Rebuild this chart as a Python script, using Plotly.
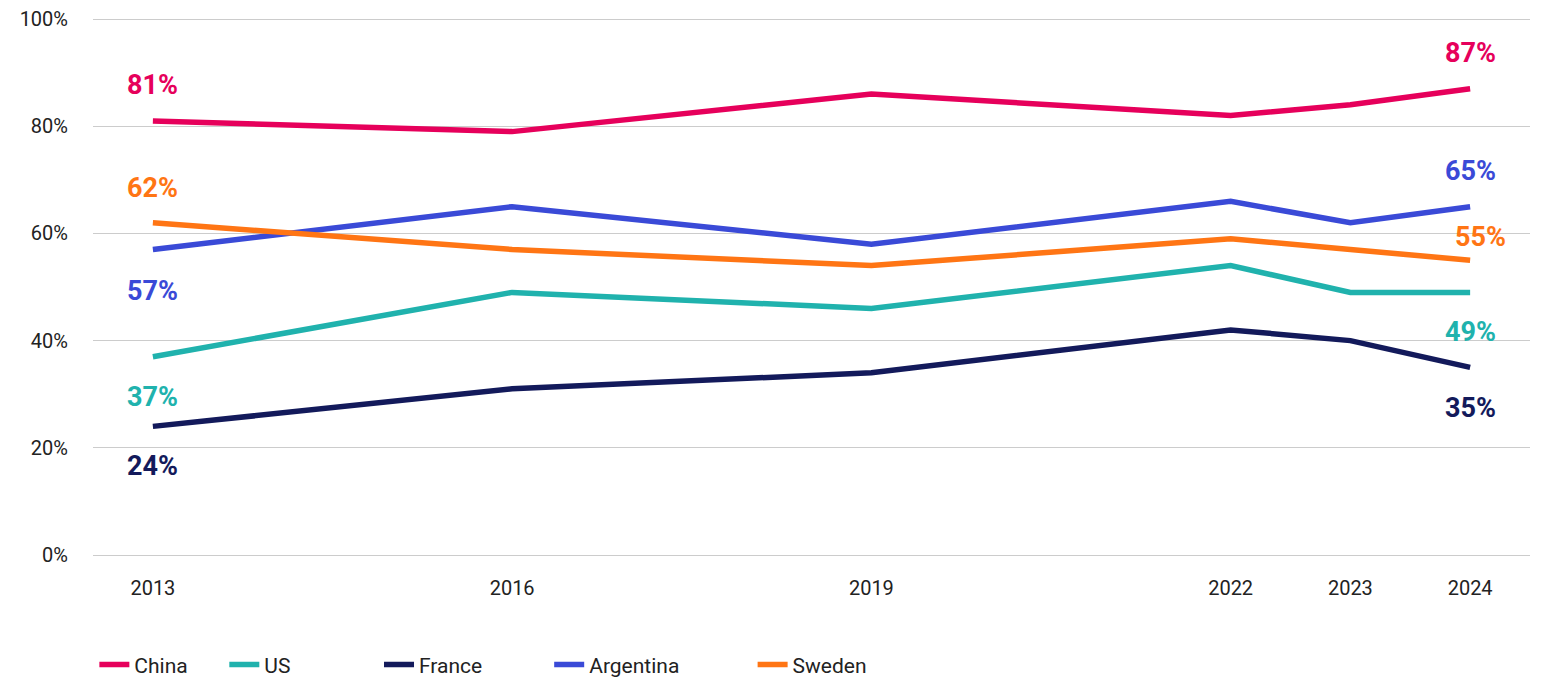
import plotly.graph_objects as go

years = [2013, 2016, 2019, 2022, 2023, 2024]

china = [81, 79, 86, 82, 84, 87]
us = [37, 49, 46, 54, 49, 49]
france = [24, 31, 34, 42, 40, 35]
argentina = [57, 65, 58, 66, 62, 65]
sweden = [62, 57, 54, 59, 57, 55]

y_ticks = [0, 20, 40, 60, 80, 100]
y_tick_labels = ["0%", "20%", "40%", "60%", "80%", "100%"]

series = [
    ("China", china, "#E6005B"),
    ("US", us, "#20B2AD"),
    ("France", france, "#131A5B"),
    ("Argentina", argentina, "#3A4AD7"),
    ("Sweden", sweden, "#FF7514"),
]

# end-label offsets in px: (first yshift, last yshift, last xshift)
label_offsets = {
    "China": (36, 36, 0),
    "US": (-40, -40, 0),
    "France": (-40, -41, 0),
    "Argentina": (-41, 36, 0),
    "Sweden": (35, 23, 10),
}

# legend entry positions (container coords)
legend_x = [0.0610, 0.1450, 0.2450, 0.3550, 0.4865]
legend_y = 0.0195

FONT = "Roboto"

fig = go.Figure()
annotations = []
layout_legends = {}
for i, (name, vals, color) in enumerate(series):
    lg = "legend" if i == 0 else f"legend{i + 1}"
    fig.add_trace(go.Scatter(
        x=years, y=vals, name=name, mode="lines",
        line=dict(color=color, width=5.5),
        legend=lg, hoverinfo="skip", showlegend=True,
    ))
    layout_legends[lg] = dict(
        x=legend_x[i], y=legend_y, xref="container", yref="container",
        xanchor="left", yanchor="middle",
        orientation="h", font=dict(family=FONT, size=21, color="#222"),
        bgcolor="rgba(0,0,0,0)", itemwidth=30,
    )
    ys0, ys1, xs1 = label_offsets[name]
    for xv, yv, ys, xs in [(years[0], vals[0], ys0, 0), (years[-1], vals[-1], ys1, xs1)]:
        annotations.append(dict(
            x=xv, y=yv, xref="x", yref="y", text=f"<b>{yv}%</b>",
            showarrow=False, yshift=ys, xshift=xs,
            font=dict(family=FONT, size=27, color=color),
        ))

fig.update_layout(
    width=1547, height=678,
    margin=dict(l=93, r=17, t=18, b=123, autoexpand=False),
    plot_bgcolor="white", paper_bgcolor="white",
    showlegend=True,
    annotations=annotations,
    **layout_legends,
)
fig.update_xaxes(
    range=[2012.5, 2024.5], tickvals=years, ticktext=[str(y) for y in years],
    showgrid=False, zeroline=False, showline=False, automargin=False,
    ticks="outside", ticklen=15, tickcolor="rgba(0,0,0,0)",
    tickfont=dict(family=FONT, size=20, color="#222"),
)
fig.update_yaxes(
    range=[0, 100.2], tickvals=y_ticks, ticktext=y_tick_labels,
    showgrid=True, gridcolor="#CCCCCC", gridwidth=1,
    zeroline=True, zerolinecolor="#CCCCCC", zerolinewidth=1,
    showline=False, automargin=False,
    ticks="outside", ticklen=20, tickcolor="rgba(0,0,0,0)",
    tickfont=dict(family=FONT, size=20, color="#222"),
)

fig.write_html("out.html")
